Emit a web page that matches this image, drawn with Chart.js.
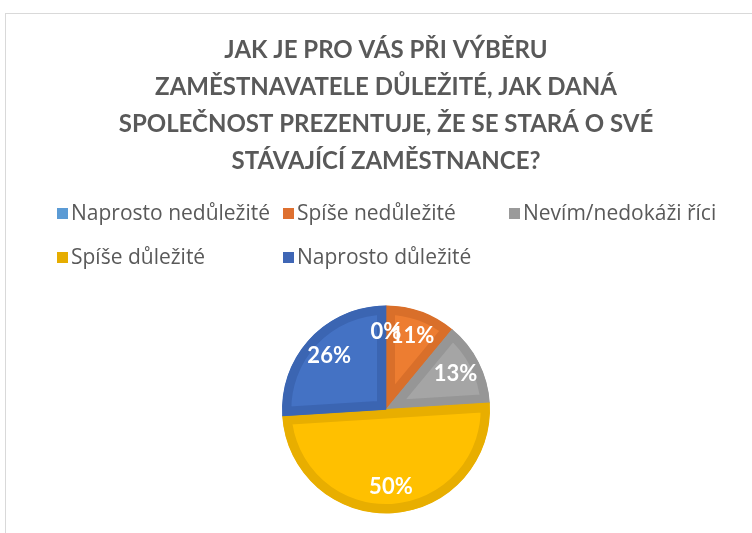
<!DOCTYPE html>
<html>
<head>
<meta charset="utf-8">
<script src="https://cdn.jsdelivr.net/npm/chart.js@4.4.1/dist/chart.umd.min.js"></script>
<style>
    html, body { margin: 0; padding: 0; background: #fff; }
    body { width: 752px; height: 533px; position: relative; overflow: hidden; }
    #frame {
        position: absolute; left: 5px; top: 13px; width: 800px; height: 600px;
        border: 1px solid #d9d9d9; box-sizing: border-box;
    }
    #chartBox { position: absolute; left: 0; top: 0; width: 752px; height: 533px; }
    #legend { position: absolute; left: 0; top: 0; font-family: 'Open Sans', Lato, sans-serif; font-size: 21px; color: #595959; }
    .item { position: absolute; white-space: nowrap; line-height: 22px; }
    .box { display: inline-block; width: 11px; height: 11px; margin-right: 3px; vertical-align: 1px; }
</style>
</head>
<body>
<div id="frame"></div>
<div id="chartBox"><canvas id="pieChart" width="752" height="533"></canvas></div>
<div id="legend"></div>
<script>
// Kategorie a hodnoty (v %)
const categories = ['Naprosto nedůležité', 'Spíše nedůležité', 'Nevím/nedokáži říci', 'Spíše důležité', 'Naprosto důležité'];
const values = [0, 11, 13, 50, 26];
const fillColors = ['#5B9BD5', '#ED7D31', '#A5A5A5', '#FFC000', '#4472C4'];
const edgeColors = ['#5A8CC0', '#D96F2A', '#969696', '#E8AE00', '#3B65B2'];
const legendColors = ['#5B9BD5', '#DE7030', '#9A9A9A', '#E6AD00', '#3F66B5'];

const titleLines = [
    'JAK JE PRO VÁS PŘI VÝBĚRU',
    'ZAMĚSTNAVATELE DŮLEŽITÉ, JAK DANÁ',
    'SPOLEČNOST PREZENTUJE, ŽE SE STARÁ O SVÉ',
    'STÁVAJÍCÍ ZAMĚSTNANCE?'
];

// Popisky procent uvnitř výsečí
const pieLabels = {
    id: 'pieLabels',
    afterDatasetsDraw(chart) {
        const ctx = chart.ctx;
        const meta = chart.getDatasetMeta(0);
        const data = chart.data.datasets[0].data;
        const total = data.reduce((a, b) => a + b, 0);
        ctx.save();
        ctx.fillStyle = '#fff';
        ctx.font = 'bold 22px Lato, "Open Sans", sans-serif';
        ctx.textAlign = 'center';
        ctx.textBaseline = 'middle';
        meta.data.forEach((arc, i) => {
            const p = arc.getProps(['x', 'y', 'startAngle', 'endAngle', 'outerRadius'], true);
            const mid = (p.startAngle + p.endAngle) / 2;
            const r = p.outerRadius * 0.75;
            const text = Math.round(data[i] / total * 100) + '%';
            ctx.fillText(text, p.x + Math.cos(mid) * r, p.y + Math.sin(mid) * r);
        });
        ctx.restore();
    }
};

const ctx = document.getElementById('pieChart').getContext('2d');
new Chart(ctx, {
    type: 'pie',
    data: {
        labels: categories,
        datasets: [{
            data: values,
            backgroundColor: fillColors,
            borderColor: edgeColors,
            borderWidth: 9,
            borderAlign: 'inner'
        }]
    },
    options: {
        responsive: false,
        animation: false,
        radius: 104,
        layout: { padding: { left: 20, right: 0, top: 0, bottom: 20 } },
        plugins: {
            legend: { display: false },
            tooltip: { enabled: false },
            title: {
                display: true,
                text: titleLines,
                color: '#595959',
                font: { family: 'Lato, "Open Sans", sans-serif', size: 24, weight: 'bold', lineHeight: 1.54 },
                padding: { top: 32, bottom: 126 }
            }
        }
    },
    plugins: [pieLabels]
});

// Legenda ve třech sloupcích
const legendEl = document.getElementById('legend');
categories.forEach((name, i) => {
    const col = i % 3, row = Math.floor(i / 3);
    const item = document.createElement('div');
    item.className = 'item';
    item.style.left = (57 + col * 226) + 'px';
    item.style.top = (201 + row * 44) + 'px';
    item.innerHTML = `<span class="box" style="background:${legendColors[i]}"></span>${name}`;
    legendEl.appendChild(item);
});
</script>
</body>
</html>
